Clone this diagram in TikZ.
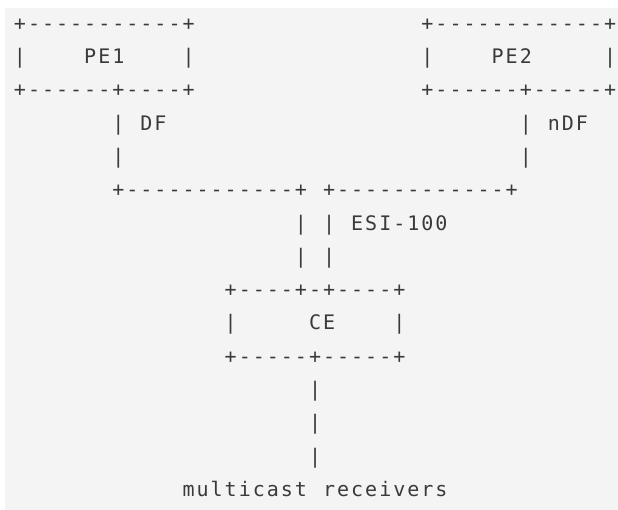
\documentclass[tikz,border=0pt]{standalone}
\usepackage{fontspec}
\newfontfamily\asciifont{DejaVu Sans Mono}
\definecolor{bg}{HTML}{F4F4F4}
\definecolor{ink}{HTML}{3A3A3A}
\newlength\chw \setlength\chw{14.05pt}
\def\monoloop#1{\ifx#1\relax\else\hbox to\chw{\hss#1\hss}\expandafter\monoloop\fi}
\newcommand\monostr[1]{\monoloop#1\relax}
\newcommand\seg[4]{\node[txt] (#1) at ({12.98+#2*14.05},{30.3+#3*33.3}) {\monostr{#4}};}
\begin{document}
\begin{tikzpicture}[x=1pt,y=-1pt,
  txt/.style={anchor=base west, inner sep=0pt, outer sep=0pt, text=ink,
              font=\asciifont\fontsize{20}{24}\selectfont}]
\fill[white] (0,0) rectangle (618,510);
\fill[bg] (5,8) rectangle (618,510);
\useasboundingbox (0,0) rectangle (618,510);
% row 0
\seg{peAtop}{0}{0}{+-----------+}
\seg{peBtop}{29}{0}{+------------+}
% row 1
\seg{peAl}{0}{1}{|}
\seg{peAlabel}{5}{1}{PE1}
\seg{peAr}{12}{1}{|}
\seg{peBl}{29}{1}{|}
\seg{peBlabel}{34}{1}{PE2}
\seg{peBr}{42}{1}{|}
% row 2
\seg{peAbot}{0}{2}{+------+----+}
\seg{peBbot}{29}{2}{+------+-----+}
% row 3
\seg{dfbarA}{7}{3}{|}
\seg{dflabel}{9}{3}{DF}
\seg{ndfbarA}{36}{3}{|}
\seg{ndflabel}{38}{3}{nDF}
% row 4
\seg{dfbarB}{7}{4}{|}
\seg{ndfbarB}{36}{4}{|}
% row 5
\seg{linkA}{7}{5}{+------------+}
\seg{linkB}{22}{5}{+------------+}
% row 6
\seg{esiAa}{20}{6}{|}
\seg{esiBa}{22}{6}{|}
\seg{esilabel}{24}{6}{ESI-100}
% row 7
\seg{esiAb}{20}{7}{|}
\seg{esiBb}{22}{7}{|}
% row 8
\seg{cetop}{15}{8}{+----+-+----+}
% row 9
\seg{cel}{15}{9}{|}
\seg{celabel}{21}{9}{CE}
\seg{cer}{27}{9}{|}
% row 10
\seg{cebot}{15}{10}{+-----+-----+}
% rows 11-13
\seg{rxA}{21}{11}{|}
\seg{rxB}{21}{12}{|}
\seg{rxC}{21}{13}{|}
% row 14
\seg{rxlabelA}{12}{14}{multicast}
\seg{rxlabelB}{22}{14}{receivers}
\end{tikzpicture}
\end{document}
